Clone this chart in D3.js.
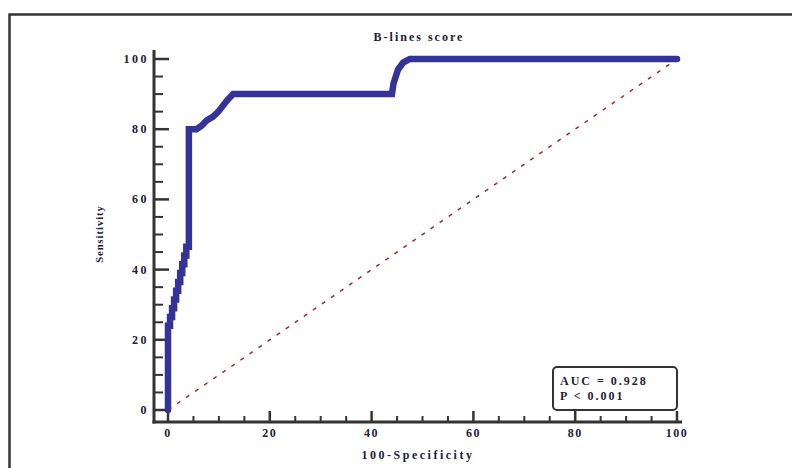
<!DOCTYPE html>
<html>
<head>
<meta charset="utf-8">
<script src="https://cdn.jsdelivr.net/npm/d3@7"></script>
<style>
  body { margin: 0; background: #fff; }
  text { font-family: "Liberation Serif", "DejaVu Serif", serif; font-weight: bold; fill: #1c1c3a; }
</style>
</head>
<body>
<svg id="chart" width="792" height="468"></svg>
<script>
// ROC curve (100-Specificity vs Sensitivity)
const rocX = [0, 0, 0.4, 0.4, 0.8, 0.8, 1.2, 1.2, 1.6, 1.6, 2.0, 2.0, 2.4, 2.4, 2.8, 2.8, 3.2, 3.2, 3.6, 3.6, 4.1, 4.1,
  5.6, 6.6, 7.6, 8.8, 9.9, 11.5, 12.8, 44, 44.3, 45.2, 46.2, 47.5, 100];
const rocY = [0, 24, 24, 26.5, 26.5, 29, 29, 31.5, 31.5, 34, 34, 36.5, 36.5, 39, 39, 41.5, 41.5, 44, 44, 46.5, 46.5, 80,
  80, 81, 82.5, 83.5, 85, 88, 90, 90, 93, 97, 99, 100, 100];
const refLine = [0, 100];
const xTicks = [0, 20, 40, 60, 80, 100];
const yTicks = [0, 20, 40, 60, 80, 100];
const minorTicks = d3.range(0, 101, 5);
const titleText = 'B-lines score';
const xTitle = '100-Specificity';
const yTitle = 'Sensitivity';
const statLines = ['AUC = 0.928', 'P < 0.001'];

const svg = d3.select('#chart');
const axisColor = '#333';

// x: 0 -> 168px, 100 -> 677px ; y: 0 -> 410px, 100 -> 59px
const x = d3.scaleLinear().domain([0, 100]).range([168, 677]);
const y = d3.scaleLinear().domain([0, 100]).range([410, 59]);
const axisX = 154;   // y axis line position
const axisY = 422;   // x axis line position

// outer frame (left and top edges visible)
svg.append('path')
  .attr('d', 'M9.5,480 L9.5,14.5 L800,14.5')
  .attr('fill', 'none')
  .attr('stroke', '#333')
  .attr('stroke-width', 2.5);

// title
svg.append('text')
  .attr('x', 419).attr('y', 41)
  .attr('text-anchor', 'middle')
  .attr('font-size', 12)
  .attr('letter-spacing', 2)
  .text(titleText);

// y axis
svg.append('line')
  .attr('x1', axisX).attr('x2', axisX)
  .attr('y1', 50).attr('y2', axisY + 1.5)
  .attr('stroke', axisColor).attr('stroke-width', 3);

svg.selectAll('.yminor')
  .data(minorTicks.filter(d => !yTicks.includes(d)))
  .enter().append('line')
  .attr('class', 'yminor')
  .attr('x1', axisX).attr('x2', axisX + 9)
  .attr('y1', d => y(d)).attr('y2', d => y(d))
  .attr('stroke', axisColor).attr('stroke-width', 2);

svg.selectAll('.ymajor')
  .data(yTicks)
  .enter().append('line')
  .attr('class', 'ymajor')
  .attr('x1', axisX).attr('x2', axisX + 15)
  .attr('y1', d => y(d)).attr('y2', d => y(d))
  .attr('stroke', axisColor).attr('stroke-width', 2.5);

svg.selectAll('.ylabel')
  .data(yTicks)
  .enter().append('text')
  .attr('class', 'ylabel')
  .attr('x', axisX - 5).attr('y', d => y(d) + 4)
  .attr('text-anchor', 'end')
  .attr('font-size', 12)
  .attr('letter-spacing', 2.5)
  .text(d => d);

svg.append('text')
  .attr('transform', `translate(103,234) rotate(-90)`)
  .attr('text-anchor', 'middle')
  .attr('font-size', 10.5)
  .attr('letter-spacing', 1)
  .text(yTitle);

// x axis
svg.append('line')
  .attr('x1', axisX - 1.5).attr('x2', 682)
  .attr('y1', axisY).attr('y2', axisY)
  .attr('stroke', axisColor).attr('stroke-width', 3);

svg.selectAll('.xminor')
  .data(minorTicks.filter(d => !xTicks.includes(d)))
  .enter().append('line')
  .attr('class', 'xminor')
  .attr('x1', d => x(d)).attr('x2', d => x(d))
  .attr('y1', axisY).attr('y2', axisY - 6)
  .attr('stroke', axisColor).attr('stroke-width', 2);

svg.selectAll('.xmajor')
  .data(xTicks)
  .enter().append('line')
  .attr('class', 'xmajor')
  .attr('x1', d => x(d)).attr('x2', d => x(d))
  .attr('y1', axisY).attr('y2', axisY - 11)
  .attr('stroke', axisColor).attr('stroke-width', 2.5);

svg.selectAll('.xlabel')
  .data(xTicks)
  .enter().append('text')
  .attr('class', 'xlabel')
  .attr('x', d => x(d)).attr('y', 437)
  .attr('text-anchor', 'middle')
  .attr('font-size', 12)
  .attr('letter-spacing', 1.5)
  .text(d => d);

svg.append('text')
  .attr('x', 418).attr('y', 459)
  .attr('text-anchor', 'middle')
  .attr('font-size', 12)
  .attr('letter-spacing', 2.5)
  .text(xTitle);

// reference diagonal
svg.append('path')
  .datum(refLine.map(v => [v, v]))
  .attr('d', d3.line().x(d => x(d[0])).y(d => y(d[1])))
  .attr('fill', 'none')
  .attr('stroke', '#a3282c')
  .attr('stroke-width', 1.5)
  .attr('stroke-dasharray', '4,7');

// ROC curve
svg.append('path')
  .datum(d3.zip(rocX, rocY))
  .attr('d', d3.line().x(d => x(d[0])).y(d => y(d[1])))
  .attr('fill', 'none')
  .attr('stroke', '#333399')
  .attr('stroke-width', 6.5)
  .attr('stroke-linejoin', 'miter')
  .attr('stroke-linecap', 'round');

// stats box
svg.append('rect')
  .attr('x', 553).attr('y', 367)
  .attr('width', 124).attr('height', 43)
  .attr('rx', 4)
  .attr('fill', '#fff')
  .attr('stroke', axisColor)
  .attr('stroke-width', 2);

svg.selectAll('.stat')
  .data(statLines)
  .enter().append('text')
  .attr('class', 'stat')
  .attr('x', 560).attr('y', (d, i) => 385 + i * 15)
  .attr('font-size', 12)
  .attr('letter-spacing', 2)
  .text(d => d);
</script>
</body>
</html>
